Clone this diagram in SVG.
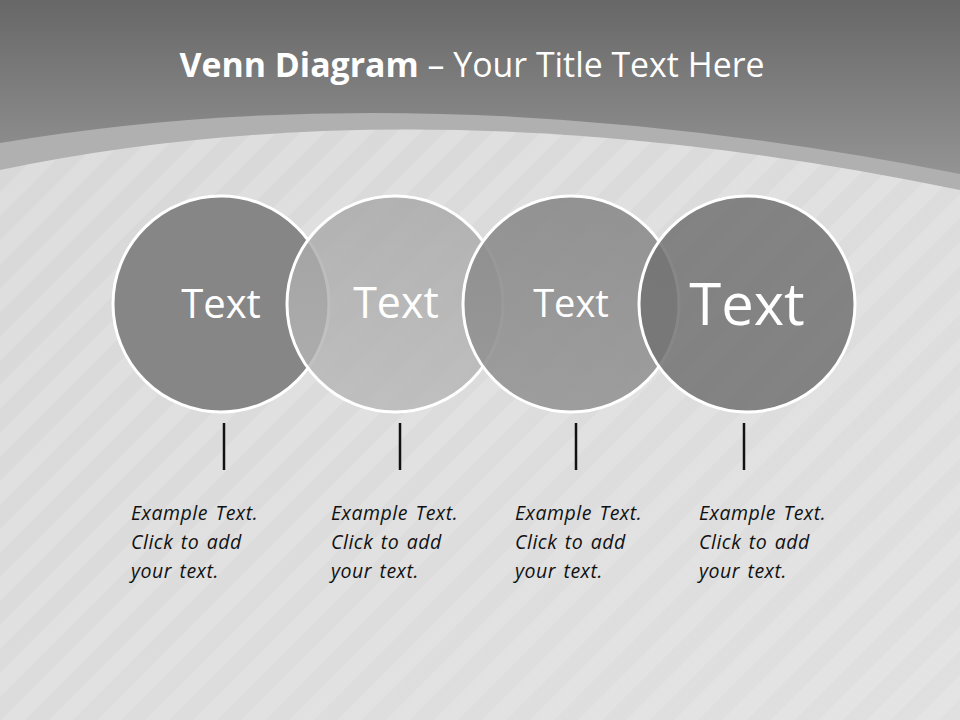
<svg xmlns="http://www.w3.org/2000/svg" width="960" height="720" viewBox="0 0 960 720">
<defs>
<linearGradient id="topg" gradientUnits="userSpaceOnUse" x1="0" y1="0" x2="0" y2="180">
<stop offset="0" stop-color="#676767"/>
<stop offset="1" stop-color="#959595"/>
</linearGradient>
<linearGradient id="bodyg" x1="0" y1="0" x2="1" y2="1">
<stop offset="0" stop-color="#d8d8d8"/>
<stop offset="1" stop-color="#e0e0e0"/>
</linearGradient>
<pattern id="stripes" width="34" height="34" patternUnits="userSpaceOnUse" patternTransform="rotate(45)">
<rect x="0" y="0" width="17" height="34" fill="#ffffff" opacity="0.13"/>
</pattern>
<linearGradient id="c2g" x1="0" y1="0" x2="0" y2="1">
<stop offset="0" stop-color="#a8a8a8"/>
<stop offset="1" stop-color="#b8b8b8"/>
</linearGradient>
<linearGradient id="c3g" x1="0" y1="0" x2="0" y2="1">
<stop offset="0" stop-color="#8a8a8a"/>
<stop offset="1" stop-color="#969696"/>
</linearGradient>
</defs>
<style>
.circ{stroke:#ffffff;stroke-width:3}
.ct{font-family:"Open Sans","Liberation Sans",sans-serif;fill:#ffffff;text-anchor:middle}
.body{font-family:"Open Sans","Liberation Sans",sans-serif;font-style:italic;font-size:19.5px;letter-spacing:0.5px;word-spacing:2px;fill:#111111}
.tick{stroke:#111111;stroke-width:2.5}
</style>
<rect x="0" y="0" width="960" height="720" fill="url(#topg)"/>
<path d="M0,143 Q430,70 960,174 L960,720 L0,720 Z" fill="#b0b0b0"/>
<path d="M0,170 Q430,80 960,190 L960,720 L0,720 Z" fill="url(#bodyg)"/>
<path d="M0,170 Q430,80 960,190 L960,720 L0,720 Z" fill="url(#stripes)"/>
<text x="472" y="77" font-family="Open Sans, Liberation Sans, sans-serif" font-size="34" fill="#ffffff" text-anchor="middle" textLength="585" lengthAdjust="spacingAndGlyphs"><tspan font-weight="bold">Venn Diagram</tspan> – Your Title Text Here</text>
<g id="node1"><circle class="circ" cx="221" cy="304" r="108" fill="#868686"/></g>
<g id="node2"><circle class="circ" cx="395" cy="304" r="108" fill="url(#c2g)" fill-opacity="0.82"/></g>
<g id="node3"><circle class="circ" cx="571" cy="304" r="108" fill="url(#c3g)" fill-opacity="0.9"/></g>
<g id="node4"><circle class="circ" cx="747" cy="304" r="108" fill="#727272" fill-opacity="0.85"/></g>
<g id="labels">
<text class="ct" x="221" y="318" font-size="40">Text</text>
<text class="ct" x="396" y="318" font-size="43">Text</text>
<text class="ct" x="571" y="317" font-size="38">Text</text>
<text class="ct" x="747" y="325" font-size="58">Text</text>
</g>
<g id="connectors">
<line class="tick" x1="224" y1="423" x2="224" y2="470"/>
<line class="tick" x1="400" y1="423" x2="400" y2="470"/>
<line class="tick" x1="576" y1="423" x2="576" y2="470"/>
<line class="tick" x1="744" y1="423" x2="744" y2="470"/>
</g>
<g id="desc1"><text class="body" x="131" y="520">Example Text.<tspan x="131" y="549">Click to add</tspan><tspan x="131" y="578">your text.</tspan></text></g>
<g id="desc2"><text class="body" x="331" y="520">Example Text.<tspan x="331" y="549">Click to add</tspan><tspan x="331" y="578">your text.</tspan></text></g>
<g id="desc3"><text class="body" x="515" y="520">Example Text.<tspan x="515" y="549">Click to add</tspan><tspan x="515" y="578">your text.</tspan></text></g>
<g id="desc4"><text class="body" x="699" y="520">Example Text.<tspan x="699" y="549">Click to add</tspan><tspan x="699" y="578">your text.</tspan></text></g>
</svg>
